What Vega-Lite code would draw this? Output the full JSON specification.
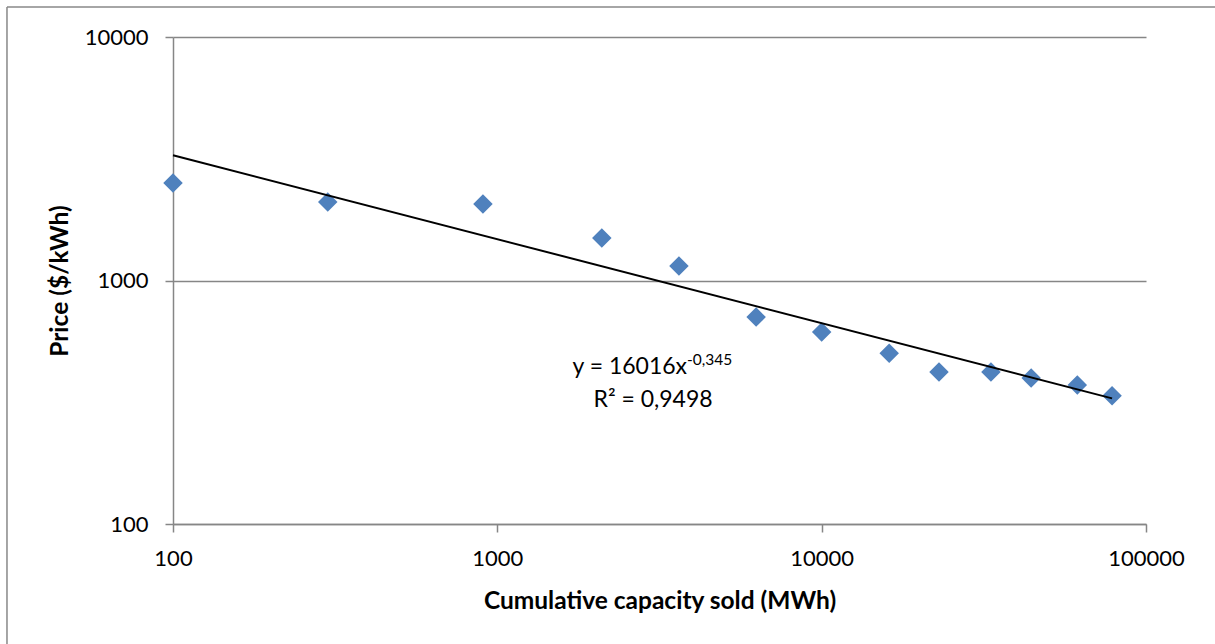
{
  "$schema": "https://vega.github.io/schema/vega-lite/v6.json",
  "width": 973,
  "height": 487,
  "autosize": "none",
  "padding": {"left": 173, "top": 37, "right": 69, "bottom": 120},
  "background": "white",
  "config": {"view": {"stroke": null}, "font": "Lato"},
  "datasets": {
    "points": [
      {"capacity": 100, "price": 2513},
      {"capacity": 300, "price": 2100},
      {"capacity": 903, "price": 2060},
      {"capacity": 2100, "price": 1495},
      {"capacity": 3630, "price": 1147},
      {"capacity": 6280, "price": 708},
      {"capacity": 10000, "price": 614},
      {"capacity": 16150, "price": 503},
      {"capacity": 23000, "price": 421},
      {"capacity": 33260, "price": 421},
      {"capacity": 44250, "price": 398},
      {"capacity": 61400, "price": 372},
      {"capacity": 78600, "price": 336}
    ],
    "trend": [
      {"capacity": 100, "price": 3270},
      {"capacity": 78600, "price": 328}
    ]
  },
  "layer": [
    {
      "data": {"name": "points"},
      "mark": {"type": "point", "shape": "diamond", "filled": true, "size": 380, "color": "#4F81BD", "opacity": 1},
      "encoding": {
        "x": {
          "field": "capacity", "type": "quantitative",
          "scale": {"type": "log", "domain": [100, 100000], "nice": false},
          "axis": {
            "title": "Cumulative capacity sold (MWh)",
            "values": [100, 1000, 10000, 100000],
            "format": "d",
            "grid": false,
            "domainColor": "#868686", "domainWidth": 1.5,
            "tickColor": "#868686", "tickWidth": 1.5, "tickSize": 8,
            "labelFont": "Lato", "labelFontSize": 22, "labelColor": "black", "labelPadding": 16,
            "labelFlush": false, "labelOverlap": false,
            "titleFont": "Lato", "titleFontSize": 24.5, "titleFontWeight": "bold", "titleColor": "black", "titlePadding": 20
          }
        },
        "y": {
          "field": "price", "type": "quantitative",
          "scale": {"type": "log", "domain": [100, 10000], "nice": false},
          "axis": {
            "title": "Price ($/kWh)",
            "values": [100, 1000, 10000],
            "format": "d",
            "grid": true, "gridColor": "#868686", "gridWidth": 1.5,
            "domainColor": "#868686", "domainWidth": 1.5,
            "tickColor": "#868686", "tickWidth": 1.5, "tickSize": 8,
            "labelFont": "Lato", "labelFontSize": 22, "labelColor": "black", "labelPadding": 17,
            "labelFlush": false, "labelOverlap": false,
            "titleFont": "Lato", "titleFontSize": 24.5, "titleFontWeight": "bold", "titleColor": "black", "titlePadding": 12
          }
        }
      }
    },
    {
      "data": {"name": "trend"},
      "mark": {"type": "line", "color": "black", "strokeWidth": 2},
      "encoding": {
        "x": {"field": "capacity", "type": "quantitative"},
        "y": {"field": "price", "type": "quantitative"}
      }
    },
    {
      "data": {"values": [{}]},
      "mark": {"type": "rule", "color": "#888888", "strokeWidth": 1.5},
      "encoding": {
        "x": {"datum": 30.77, "type": "quantitative"},
        "x2": {"datum": 300000},
        "y": {"datum": 13280, "type": "quantitative"}
      }
    },
    {
      "data": {"values": [{}]},
      "mark": {"type": "rule", "color": "#888888", "strokeWidth": 1.5},
      "encoding": {
        "x": {"datum": 30.77, "type": "quantitative"},
        "y": {"datum": 13280, "type": "quantitative"},
        "y2": {"datum": 10}
      }
    },
    {
      "data": {"values": [{}]},
      "mark": {"type": "text", "align": "right", "baseline": "middle", "fontSize": 23, "font": "Lato", "color": "black", "text": "y = 16016x"},
      "encoding": {
        "x": {"datum": 3845, "type": "quantitative"},
        "y": {"datum": 441, "type": "quantitative"}
      }
    },
    {
      "data": {"values": [{}]},
      "mark": {"type": "text", "align": "left", "baseline": "middle", "fontSize": 15.5, "font": "Lato", "color": "black", "text": "-0,345"},
      "encoding": {
        "x": {"datum": 3845, "type": "quantitative"},
        "y": {"datum": 470, "type": "quantitative"}
      }
    },
    {
      "data": {"values": [{}]},
      "mark": {"type": "text", "align": "center", "baseline": "middle", "fontSize": 23, "font": "Lato", "color": "black", "text": "R² = 0,9498"},
      "encoding": {
        "x": {"datum": 3021, "type": "quantitative"},
        "y": {"datum": 323, "type": "quantitative"}
      }
    }
  ]
}
